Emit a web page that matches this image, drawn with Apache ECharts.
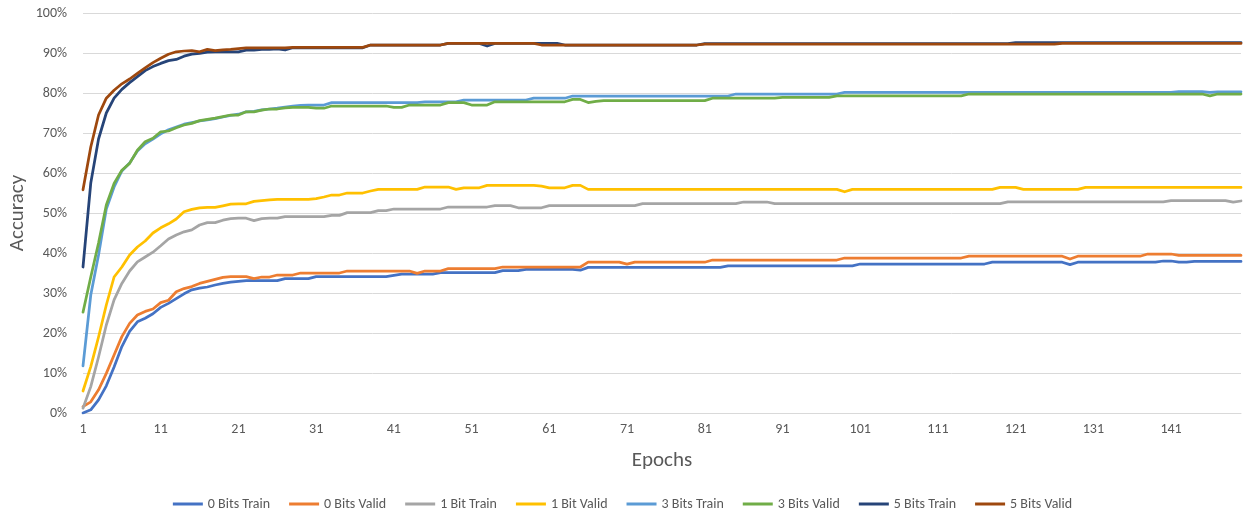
<!DOCTYPE html>
<html>
<head>
<meta charset="utf-8">
<title>Accuracy per epoch</title>
<script src="https://cdn.jsdelivr.net/npm/echarts@6/dist/echarts.min.js"></script>
<style>
  html, body { margin: 0; padding: 0; background: #ffffff; }
  #chart { width: 1245px; height: 513px; }
</style>
</head>
<body>
<div id="chart"></div>
<script>
// Epoch numbers along the x axis (1..150)
const epochs = [];
for (let i = 1; i <= 150; i++) epochs.push(String(i));

const seriesNames = ['0 Bits Train', '0 Bits Valid', '1 Bit Train', '1 Bit Valid',
                     '3 Bits Train', '3 Bits Valid', '5 Bits Train', '5 Bits Valid'];
const seriesColors = ['#4472C4', '#ED7D31', '#A5A5A5', '#FFC000',
                      '#5B9BD5', '#70AD47', '#264478', '#9E480E'];

// Accuracy (%) per epoch
const bits0Train = [
  0, 0.8, 3.3, 6.8, 11.5, 16.6, 20.4, 22.8, 23.7, 24.8,
  26.4, 27.4, 28.6, 29.8, 30.8, 31.2, 31.5, 32.0, 32.4, 32.7,
  32.9, 33.1, 33.1, 33.1, 33.1, 33.1, 33.6, 33.6, 33.6, 33.6,
  34.1, 34.1, 34.1, 34.1, 34.1, 34.1, 34.1, 34.1, 34.1, 34.1,
  34.4, 34.7, 34.7, 34.7, 34.7, 34.7, 35.1, 35.1, 35.1, 35.1,
  35.1, 35.1, 35.1, 35.1, 35.6, 35.6, 35.6, 35.9, 35.9, 35.9,
  35.9, 35.9, 35.9, 35.9, 35.7, 36.4, 36.4, 36.4, 36.4, 36.4,
  36.4, 36.4, 36.4, 36.4, 36.4, 36.4, 36.4, 36.4, 36.4, 36.4,
  36.4, 36.4, 36.4, 36.8, 36.8, 36.8, 36.8, 36.8, 36.8, 36.8,
  36.8, 36.8, 36.8, 36.8, 36.8, 36.8, 36.8, 36.8, 36.8, 36.8,
  37.25, 37.25, 37.25, 37.25, 37.25, 37.25, 37.25, 37.25, 37.25, 37.25,
  37.25, 37.25, 37.25, 37.25, 37.25, 37.25, 37.25, 37.7, 37.7, 37.7,
  37.7, 37.7, 37.7, 37.7, 37.7, 37.7, 37.7, 37.1, 37.7, 37.7,
  37.7, 37.7, 37.7, 37.7, 37.7, 37.7, 37.7, 37.7, 37.7, 38.0,
  38.0, 37.7, 37.7, 37.9, 37.9, 37.9, 37.9, 37.9, 37.9, 37.9
];
const bits0Valid = [
  1.6, 2.8, 5.8, 9.9, 14.5, 19.1, 22.4, 24.5, 25.4, 26.0,
  27.6, 28.2, 30.3, 31.1, 31.6, 32.4, 32.9, 33.4, 33.9, 34.1,
  34.1, 34.1, 33.6, 34.0, 34.0, 34.5, 34.5, 34.5, 35.0, 35.0,
  35.0, 35.0, 35.0, 35.0, 35.5, 35.5, 35.5, 35.5, 35.5, 35.5,
  35.5, 35.5, 35.5, 34.9, 35.5, 35.5, 35.5, 36.1, 36.1, 36.1,
  36.1, 36.1, 36.1, 36.1, 36.5, 36.5, 36.5, 36.5, 36.5, 36.5,
  36.5, 36.5, 36.5, 36.5, 36.5, 37.7, 37.7, 37.7, 37.7, 37.7,
  37.2, 37.7, 37.7, 37.7, 37.7, 37.7, 37.7, 37.7, 37.7, 37.7,
  37.7, 38.25, 38.25, 38.25, 38.25, 38.25, 38.25, 38.25, 38.25, 38.25,
  38.25, 38.25, 38.25, 38.25, 38.25, 38.25, 38.25, 38.25, 38.75, 38.75,
  38.75, 38.75, 38.75, 38.75, 38.75, 38.75, 38.75, 38.75, 38.75, 38.75,
  38.75, 38.75, 38.75, 38.75, 39.2, 39.2, 39.2, 39.2, 39.2, 39.2,
  39.2, 39.2, 39.2, 39.2, 39.2, 39.2, 39.2, 38.5, 39.2, 39.2,
  39.2, 39.2, 39.2, 39.2, 39.2, 39.2, 39.2, 39.75, 39.75, 39.75,
  39.75, 39.4, 39.4, 39.4, 39.4, 39.4, 39.4, 39.4, 39.4, 39.4
];
const bit1Train = [
  1.2, 6.6, 14.0, 22.0, 28.3, 32.4, 35.5, 37.8, 39.0, 40.2,
  41.8, 43.5, 44.5, 45.3, 45.8, 47.0, 47.6, 47.6, 48.2, 48.6,
  48.7, 48.7, 48.1, 48.6, 48.7, 48.7, 49.1, 49.1, 49.1, 49.1,
  49.1, 49.1, 49.4, 49.4, 50.1, 50.1, 50.1, 50.1, 50.6, 50.6,
  51.0, 51.0, 51.0, 51.0, 51.0, 51.0, 51.0, 51.5, 51.5, 51.5,
  51.5, 51.5, 51.5, 51.85, 51.85, 51.85, 51.3, 51.3, 51.3, 51.3,
  51.85, 51.85, 51.85, 51.85, 51.85, 51.85, 51.85, 51.85, 51.85, 51.85,
  51.85, 51.85, 52.35, 52.35, 52.35, 52.35, 52.35, 52.35, 52.35, 52.35,
  52.35, 52.35, 52.35, 52.35, 52.35, 52.75, 52.75, 52.75, 52.75, 52.35,
  52.35, 52.35, 52.35, 52.35, 52.35, 52.35, 52.35, 52.35, 52.35, 52.35,
  52.35, 52.35, 52.35, 52.35, 52.35, 52.35, 52.35, 52.35, 52.35, 52.35,
  52.35, 52.35, 52.35, 52.35, 52.35, 52.35, 52.35, 52.35, 52.35, 52.8,
  52.8, 52.8, 52.8, 52.8, 52.8, 52.8, 52.8, 52.8, 52.8, 52.8,
  52.8, 52.8, 52.8, 52.8, 52.8, 52.8, 52.8, 52.8, 52.8, 52.8,
  53.1, 53.1, 53.1, 53.1, 53.1, 53.1, 53.1, 53.1, 52.7, 53.0
];
const bit1Valid = [
  5.5, 11.6, 19.0, 27.0, 34.0, 36.5, 39.5, 41.5, 43.0, 45.0,
  46.3, 47.3, 48.5, 50.3, 50.9, 51.3, 51.4, 51.4, 51.8, 52.2,
  52.3, 52.3, 52.9, 53.1, 53.3, 53.4, 53.4, 53.4, 53.4, 53.4,
  53.6, 54.0, 54.5, 54.5, 55.0, 55.0, 55.0, 55.5, 55.9, 55.9,
  55.9, 55.9, 55.9, 55.9, 56.5, 56.5, 56.5, 56.5, 55.9, 56.3,
  56.3, 56.3, 56.9, 56.9, 56.9, 56.9, 56.9, 56.9, 56.9, 56.7,
  56.3, 56.3, 56.3, 56.9, 56.9, 55.9, 55.9, 55.9, 55.9, 55.9,
  55.9, 55.9, 55.9, 55.9, 55.9, 55.9, 55.9, 55.9, 55.9, 55.9,
  55.9, 55.9, 55.9, 55.9, 55.9, 55.9, 55.9, 55.9, 55.9, 55.9,
  55.9, 55.9, 55.9, 55.9, 55.9, 55.9, 55.9, 55.9, 55.3, 55.9,
  55.9, 55.9, 55.9, 55.9, 55.9, 55.9, 55.9, 55.9, 55.9, 55.9,
  55.9, 55.9, 55.9, 55.9, 55.9, 55.9, 55.9, 55.9, 56.4, 56.4,
  56.4, 55.9, 55.9, 55.9, 55.9, 55.9, 55.9, 55.9, 55.9, 56.4,
  56.4, 56.4, 56.4, 56.4, 56.4, 56.4, 56.4, 56.4, 56.4, 56.4,
  56.4, 56.4, 56.4, 56.4, 56.4, 56.4, 56.4, 56.4, 56.4, 56.4
];
const bits3Train = [
  11.8, 29.5, 39.5, 51.0, 56.5, 60.5, 62.5, 65.5, 67.3, 68.5,
  69.8, 70.8, 71.5, 72.2, 72.6, 73.0, 73.3, 73.6, 74.0, 74.4,
  74.7, 75.3, 75.4, 75.8, 76.0, 76.2, 76.5, 76.7, 76.9, 77.0,
  77.0, 77.0, 77.6, 77.6, 77.6, 77.6, 77.6, 77.6, 77.6, 77.6,
  77.6, 77.6, 77.6, 77.6, 77.8, 77.8, 77.8, 77.8, 77.8, 78.25,
  78.25, 78.25, 78.25, 78.25, 78.25, 78.25, 78.25, 78.25, 78.7, 78.7,
  78.7, 78.7, 78.7, 79.25, 79.25, 79.25, 79.25, 79.25, 79.25, 79.25,
  79.25, 79.25, 79.25, 79.25, 79.25, 79.25, 79.25, 79.25, 79.25, 79.25,
  79.25, 79.25, 79.25, 79.25, 79.75, 79.75, 79.75, 79.75, 79.75, 79.75,
  79.75, 79.75, 79.75, 79.75, 79.75, 79.75, 79.75, 79.75, 80.15, 80.15,
  80.15, 80.15, 80.15, 80.15, 80.15, 80.15, 80.15, 80.15, 80.15, 80.15,
  80.15, 80.15, 80.15, 80.15, 80.15, 80.15, 80.15, 80.15, 80.15, 80.15,
  80.15, 80.15, 80.15, 80.15, 80.15, 80.15, 80.15, 80.15, 80.15, 80.15,
  80.15, 80.15, 80.15, 80.15, 80.15, 80.15, 80.15, 80.15, 80.15, 80.15,
  80.15, 80.35, 80.35, 80.35, 80.35, 80.15, 80.3, 80.3, 80.3, 80.3
];
const bits3Valid = [
  25.2, 34.0, 42.5, 52.0, 57.4, 60.7, 62.4, 65.7, 67.8, 68.7,
  70.3, 70.5, 71.3, 72.0, 72.4, 73.1, 73.4, 73.7, 74.1, 74.5,
  74.5, 75.3, 75.3, 75.7, 76.0, 76.0, 76.3, 76.4, 76.4, 76.4,
  76.2, 76.2, 76.75, 76.75, 76.75, 76.75, 76.75, 76.75, 76.75, 76.75,
  76.4, 76.4, 77.0, 77.0, 77.0, 77.0, 77.0, 77.6, 77.6, 77.6,
  77.0, 77.0, 77.0, 77.8, 77.8, 77.8, 77.8, 77.8, 77.8, 77.8,
  77.8, 77.8, 77.8, 78.4, 78.4, 77.6, 77.9, 78.1, 78.1, 78.1,
  78.1, 78.1, 78.1, 78.1, 78.1, 78.1, 78.1, 78.1, 78.1, 78.1,
  78.1, 78.7, 78.7, 78.7, 78.7, 78.7, 78.7, 78.7, 78.7, 78.7,
  78.9, 78.9, 78.9, 78.9, 78.9, 78.9, 78.9, 79.3, 79.3, 79.3,
  79.3, 79.3, 79.3, 79.3, 79.3, 79.3, 79.3, 79.3, 79.3, 79.3,
  79.3, 79.3, 79.3, 79.3, 79.75, 79.75, 79.75, 79.75, 79.75, 79.75,
  79.75, 79.75, 79.75, 79.75, 79.75, 79.75, 79.75, 79.75, 79.75, 79.75,
  79.75, 79.75, 79.75, 79.75, 79.75, 79.75, 79.75, 79.75, 79.75, 79.75,
  79.75, 79.75, 79.75, 79.75, 79.75, 79.3, 79.75, 79.75, 79.75, 79.75
];
const bits5Train = [
  36.5, 57.5, 68.5, 75.0, 78.7, 80.9, 82.6, 84.1, 85.6, 86.6,
  87.4, 88.1, 88.4, 89.2, 89.7, 89.9, 90.2, 90.3, 90.3, 90.3,
  90.3, 90.7, 90.7, 90.9, 90.9, 91.0, 90.75, 91.3, 91.3, 91.3,
  91.3, 91.3, 91.3, 91.3, 91.3, 91.3, 91.3, 92.0, 92.0, 92.0,
  92.0, 92.0, 92.0, 92.0, 92.0, 92.0, 92.0, 92.4, 92.4, 92.4,
  92.4, 92.4, 91.75, 92.4, 92.4, 92.4, 92.4, 92.4, 92.4, 92.4,
  92.4, 92.4, 92.0, 92.0, 92.0, 92.0, 92.0, 92.0, 92.0, 92.0,
  92.0, 92.0, 92.0, 92.0, 92.0, 92.0, 92.0, 92.0, 92.0, 92.0,
  92.35, 92.35, 92.35, 92.35, 92.35, 92.35, 92.35, 92.35, 92.35, 92.35,
  92.35, 92.35, 92.35, 92.35, 92.35, 92.35, 92.35, 92.35, 92.35, 92.35,
  92.35, 92.35, 92.35, 92.35, 92.35, 92.35, 92.35, 92.35, 92.35, 92.35,
  92.35, 92.35, 92.35, 92.35, 92.35, 92.35, 92.35, 92.35, 92.35, 92.35,
  92.6, 92.6, 92.6, 92.6, 92.6, 92.6, 92.6, 92.6, 92.6, 92.6,
  92.6, 92.6, 92.6, 92.6, 92.6, 92.6, 92.6, 92.6, 92.6, 92.6,
  92.6, 92.6, 92.6, 92.6, 92.6, 92.6, 92.6, 92.6, 92.6, 92.6
];
const bits5Valid = [
  55.8, 66.5, 74.5, 78.7, 80.7, 82.3, 83.5, 84.9, 86.3, 87.6,
  88.7, 89.7, 90.3, 90.5, 90.6, 90.3, 90.9, 90.6, 90.8, 90.9,
  91.1, 91.3, 91.3, 91.3, 91.3, 91.3, 91.3, 91.4, 91.4, 91.4,
  91.4, 91.4, 91.4, 91.4, 91.4, 91.4, 91.4, 92.0, 92.0, 92.0,
  92.0, 92.0, 92.0, 92.0, 92.0, 92.0, 92.0, 92.4, 92.4, 92.4,
  92.4, 92.4, 92.4, 92.4, 92.4, 92.4, 92.4, 92.4, 92.4, 92.0,
  92.0, 92.0, 92.0, 92.0, 92.0, 92.0, 92.0, 92.0, 92.0, 92.0,
  92.0, 92.0, 92.0, 92.0, 92.0, 92.0, 92.0, 92.0, 92.0, 92.0,
  92.2, 92.2, 92.2, 92.2, 92.2, 92.2, 92.2, 92.2, 92.2, 92.2,
  92.2, 92.2, 92.2, 92.2, 92.2, 92.2, 92.2, 92.2, 92.2, 92.2,
  92.2, 92.2, 92.2, 92.2, 92.2, 92.2, 92.2, 92.2, 92.2, 92.2,
  92.2, 92.2, 92.2, 92.2, 92.2, 92.2, 92.2, 92.2, 92.2, 92.2,
  92.2, 92.2, 92.2, 92.2, 92.2, 92.2, 92.4, 92.4, 92.4, 92.4,
  92.4, 92.4, 92.4, 92.4, 92.4, 92.4, 92.4, 92.4, 92.4, 92.4,
  92.4, 92.4, 92.4, 92.4, 92.4, 92.4, 92.4, 92.4, 92.4, 92.4
];

const seriesData = [bits0Train, bits0Valid, bit1Train, bit1Valid,
                    bits3Train, bits3Valid, bits5Train, bits5Valid];

const labelFont = "Carlito, 'Liberation Sans Narrow', 'Open Sans', sans-serif";
const textGrey = '#595959';
const gridGrey = '#d9d9d9';

const chart = echarts.init(document.getElementById('chart'), null, { renderer: 'canvas' });

chart.setOption({
  animation: false,
  backgroundColor: '#ffffff',
  color: seriesColors,
  grid: { left: 83, right: 4, top: 13, bottom: 100, containLabel: false, outerBoundsMode: 'none' },
  legend: {
    bottom: -3,
    left: 'center',
    icon: 'rect',
    itemWidth: 30,
    itemHeight: 3,
    itemGap: 19,
    textStyle: { color: textGrey, fontSize: 14, fontFamily: labelFont },
    data: seriesNames
  },
  xAxis: {
    type: 'category',
    data: epochs,
    boundaryGap: false,
    name: 'Epochs',
    nameLocation: 'middle',
    nameGap: 37,
    nameMoveOverlap: false,
    nameTextStyle: { color: textGrey, fontSize: 21, fontFamily: labelFont },
    axisLine: { show: true, lineStyle: { color: gridGrey, width: 1 } },
    axisTick: { show: false },
    axisLabel: { interval: 9, color: textGrey, fontSize: 14, fontFamily: labelFont, margin: 9 },
    splitLine: { show: false }
  },
  yAxis: {
    type: 'value',
    min: 0,
    max: 100,
    interval: 10,
    name: 'Accuracy',
    nameLocation: 'middle',
    nameGap: 55,
    nameRotate: 90,
    nameMoveOverlap: false,
    nameTextStyle: { color: textGrey, fontSize: 21, fontFamily: labelFont },
    axisLine: { show: false },
    axisTick: { show: false },
    axisLabel: { formatter: '{value}%', color: textGrey, fontSize: 14, fontFamily: labelFont, margin: 16 },
    splitLine: { show: true, lineStyle: { color: gridGrey, width: 1 } }
  },
  series: seriesNames.map((name, i) => ({
    name: name,
    type: 'line',
    data: seriesData[i],
    symbol: 'none',
    showSymbol: false,
    smooth: false,
    lineStyle: { width: 2.75, color: seriesColors[i], cap: 'round', join: 'round' },
    emphasis: { disabled: true }
  }))
});
</script>
</body>
</html>
